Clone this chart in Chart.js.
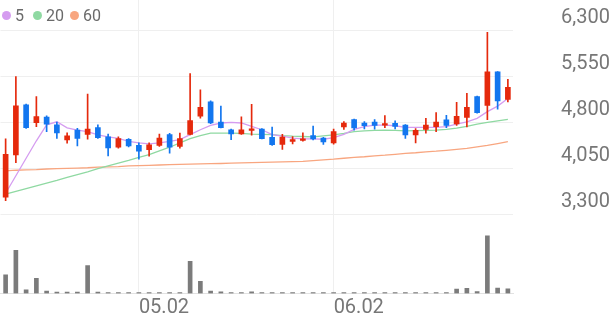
<!DOCTYPE html>
<html>
<head>
<meta charset="utf-8">
<script src="https://cdn.jsdelivr.net/npm/chart.js@4.4.1/dist/chart.umd.min.js"></script>
<style>
html,body{margin:0;padding:0;background:#fff;}
#wrap{position:relative;width:616px;height:321px;overflow:hidden;}
#c{position:absolute;left:0;top:0;}
.lg-dot{position:absolute;width:9px;height:9px;border-radius:50%;}
.lg-txt{position:absolute;font-family:Roboto,"Liberation Sans",sans-serif;font-size:16px;line-height:16px;color:#6a6a6a;white-space:nowrap;}
</style>
</head>
<body>
<div id="wrap">
  <canvas id="c" width="616" height="321" style="width:616px;height:321px"></canvas>
  <div id="legend"></div>
</div>
<script>
// ---- data ----
const dates = ['04.14','04.15','04.16','04.17','04.18','04.21','04.22','04.23','04.24','04.25',
  '04.28','04.29','04.30','05.02','05.07','05.08','05.09','05.12','05.13','05.14',
  '05.15','05.16','05.19','05.20','05.21','05.22','05.23','05.26','05.27','05.28',
  '05.29','05.30','06.02','06.04','06.05','06.09','06.10','06.11','06.12','06.13',
  '06.16','06.17','06.18','06.19','06.20','06.23','06.24','06.25','06.26','06.27'];
const tickLabels = ['05.02','06.02'];
const priceTicks = [3300, 4050, 4800, 5550, 6300];

const openP  = [3590,4280,5095,4805,4895,4770,4525,4685,4615,4725,
  4575,4405,4535,4435,4365,4435,4610,4420,4615,4910,
  5145,4815,4690,4620,4680,4700,4565,4450,4500,4515,
  4595,4555,4475,4735,4855,4800,4815,4765,4795,4765,
  4605,4695,4740,4850,4785,4890,5230,5085,5635,5185];
const highP  = [4540,5555,5110,5230,4915,4815,4640,4715,5270,4770,
  4620,4575,4545,4475,4475,4620,4630,4635,5605,5340,
  5160,5075,4700,4900,5105,4710,4735,4615,4580,4640,
  4750,4565,4700,4825,4865,4825,4855,4920,4835,4775,
  4710,4875,4970,4925,5135,5285,5240,6280,5640,5510];
const lowP   = [3535,4155,4710,4740,4660,4550,4470,4425,4535,4550,
  4265,4390,4410,4210,4260,4420,4310,4390,4605,4880,
  4790,4720,4530,4615,4600,4540,4435,4370,4460,4505,
  4525,4450,4455,4695,4685,4705,4700,4725,4705,4550,
  4475,4635,4660,4725,4760,4735,4960,4855,5025,5145];
const closeP = [4290,5080,4725,4905,4780,4640,4590,4550,4700,4560,
  4395,4545,4425,4340,4445,4555,4405,4545,4840,5055,
  4800,4725,4620,4690,4705,4545,4445,4570,4530,4540,
  4540,4490,4660,4800,4720,4755,4760,4790,4745,4605,
  4680,4765,4815,4760,4910,5055,4970,5635,5160,5380];
const volume = [184000,427000,37000,150000,24000,14000,14000,14000,277000,14000,
  10000,7000,7000,7000,7000,7000,7000,7000,317000,120000,
  24000,17000,7000,7000,17000,7000,7000,5000,5000,5000,
  5000,7000,5000,7000,5000,5000,5000,5000,5000,5000,
  7000,8000,10000,6000,44000,50000,20000,570000,54000,47000];
const ma5  = [3655,3940,4225,4510,4770,4820,4720,4685,4660,4605,
  4575,4550,4500,4475,4460,4475,4500,4530,4610,4690,
  4760,4800,4810,4800,4745,4690,4610,4585,4555,4540,
  4540,4535,4560,4615,4695,4740,4765,4765,4755,4730,
  4730,4730,4730,4740,4780,4820,4875,4985,5075,5200];
const ma20 = [3640,3685,3730,3775,3820,3865,3915,3960,4005,4055,
  4100,4145,4190,4240,4285,4345,4405,4475,4545,4595,
  4635,4635,4635,4630,4620,4615,4610,4595,4585,4580,
  4575,4590,4605,4630,4660,4670,4680,4685,4680,4670,
  4675,4680,4685,4695,4715,4745,4780,4810,4835,4860];
const ma60 = [4020,4030,4035,4040,4050,4055,4060,4065,4070,4080,
  4085,4090,4100,4105,4110,4115,4120,4125,4128,4132,
  4136,4140,4145,4149,4153,4157,4161,4165,4169,4173,
  4185,4200,4210,4225,4240,4250,4265,4275,4290,4305,
  4315,4330,4340,4355,4370,4385,4410,4435,4465,4495];
const maLabels = ['5','20','60'];

// ---- styles ----
const UP = '#e5290c', DOWN = '#1276ef';
const maColors = ['#d59cf0', '#8fd9a2', '#f8a680'];
const FONT = 'Roboto, "Liberation Sans", sans-serif';

const candleColor = openP.map((o, i) => closeP[i] >= o ? UP : DOWN);
const wickData = lowP.map((l, i) => [l, highP[i]]);
const bodyData = openP.map((o, i) => [Math.min(o, closeP[i]), Math.max(o, closeP[i])]);

// legend (HTML text)
const lg = document.getElementById('legend');
const dotX = [1.7, 32.5, 69.5], txtX = [15, 46, 83];
maLabels.forEach((t, i) => {
  const d = document.createElement('div');
  d.className = 'lg-dot';
  d.style.left = dotX[i] + 'px'; d.style.top = '10.8px';
  d.style.background = maColors[i];
  lg.appendChild(d);
  const s = document.createElement('div');
  s.className = 'lg-txt';
  s.style.left = txtX[i] + 'px'; s.style.top = '8px';
  s.textContent = t;
  lg.appendChild(s);
});

function noPad(s) { s.paddingTop = 0; s.paddingBottom = 0; s.paddingLeft = 0; s.paddingRight = 0; }

new Chart(document.getElementById('c'), {
  data: {
    labels: dates,
    datasets: [
      { type: 'bar', label: 'wick', data: wickData, backgroundColor: candleColor,
        barThickness: 1, grouped: false, yAxisID: 'y', order: 1, borderWidth: 0 },
      { type: 'bar', label: 'body', data: bodyData, backgroundColor: candleColor,
        barThickness: 5, grouped: false, yAxisID: 'y', order: 0, borderWidth: 0, minBarLength: 1 },
      { type: 'line', label: maLabels[0], data: ma5, borderColor: maColors[0], borderWidth: 1.3,
        pointRadius: 0, yAxisID: 'y', order: 2, tension: 0 },
      { type: 'line', label: maLabels[1], data: ma20, borderColor: maColors[1], borderWidth: 1.3,
        pointRadius: 0, yAxisID: 'y', order: 3, tension: 0 },
      { type: 'line', label: maLabels[2], data: ma60, borderColor: maColors[2], borderWidth: 1.3,
        pointRadius: 0, yAxisID: 'y', order: 4, tension: 0 },
      { type: 'bar', label: 'volume', data: volume, backgroundColor: '#7b7b7b',
        barThickness: 4, grouped: false, yAxisID: 'yv', order: 5, borderWidth: 0, minBarLength: 1 }
    ]
  },
  options: {
    responsive: false,
    animation: false,
    devicePixelRatio: 1,
    layout: { padding: { left: 0.5, right: 0, top: 0, bottom: 0 } },
    plugins: { legend: { display: false }, tooltip: { enabled: false } },
    scales: {
      x: {
        type: 'category',
        offset: true,
        grid: {
          offset: false, drawTicks: false, lineWidth: 1,
          color: ctx => (tickLabels.includes(dates[ctx.index]) ? '#efefef' : 'rgba(0,0,0,0)')
        },
        border: { display: true, color: '#e2e2e2' },
        ticks: {
          autoSkip: false, maxRotation: 0, minRotation: 0, align: 'start', padding: 2,
          color: '#777', font: { family: FONT, size: 20 },
          callback: (v, i) => (tickLabels.includes(dates[i]) ? dates[i] : '')
        },
        afterFit: s => { s.height = 27.5; noPad(s); }
      },
      y: {
        position: 'right',
        min: 2020.1, max: 6805.4,
        afterBuildTicks: s => { s.ticks = priceTicks.map(v => ({ value: v })); },
        grid: { drawTicks: false, color: '#efefef', lineWidth: 1 },
        border: { display: false },
        ticks: {
          padding: 48, labelOffset: -13, color: '#777',
          font: { family: FONT, size: 20 },
          callback: v => Number(v).toLocaleString('en-US')
        },
        afterFit: s => { s.width = 103; noPad(s); }
      },
      yv: {
        display: false, min: 0, max: 2900000
      }
    }
  }
});
</script>
</body>
</html>
